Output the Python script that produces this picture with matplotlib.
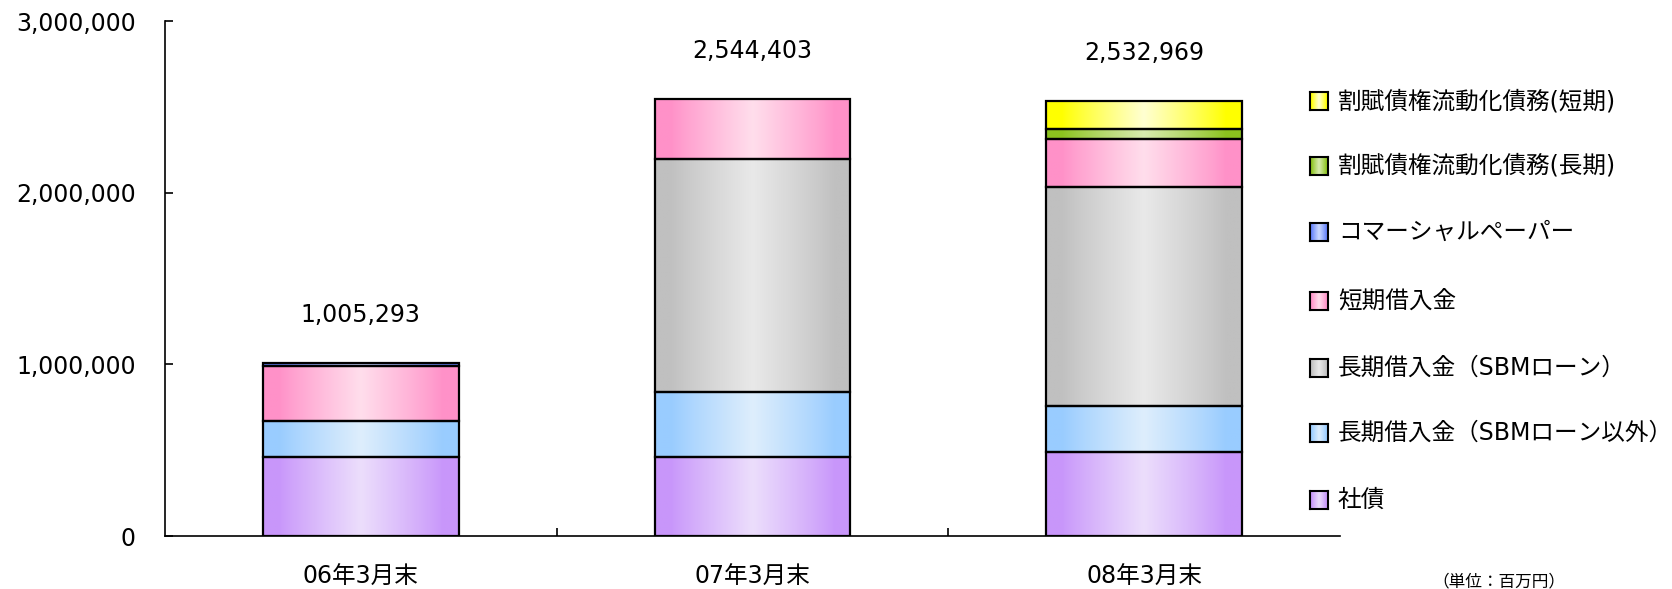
import numpy as np
import matplotlib.pyplot as plt
from matplotlib.patches import Rectangle
from matplotlib.ticker import FuncFormatter, FixedLocator

plt.rcParams['font.family'] = ['DejaVu Sans', 'Noto Sans CJK JP']

# データ（単位：百万円）
categories = ["06年3月末", "07年3月末", "08年3月末"]
shasai = [459000, 462000, 492000]                 # 社債
choki_other = [211000, 376000, 264000]            # 長期借入金（SBMローン以外）
choki_sbm = [0, 1360000, 1276000]                 # 長期借入金（SBMローン）
tanki = [320000, 346403, 279000]                  # 短期借入金
cp = [15293, 0, 0]                                # コマーシャルペーパー
kappu_long = [0, 0, 59000]                        # 割賦債権流動化債務(長期)
kappu_short = [0, 0, 162969]                      # 割賦債権流動化債務(短期)
totals = [1005293, 2544403, 2532969]

series = [
    ("社債", shasai, (200, 150, 250), (236, 222, 252)),
    ("長期借入金（SBMローン以外）", choki_other, (153, 204, 255), (222, 238, 252)),
    ("長期借入金（SBMローン）", choki_sbm, (192, 192, 192), (233, 233, 233)),
    ("短期借入金", tanki, (255, 145, 200), (255, 222, 236)),
    ("コマーシャルペーパー", cp, (100, 130, 250), (205, 218, 255)),
    ("割賦債権流動化債務(長期)", kappu_long, (140, 195, 30), (215, 235, 175)),
    ("割賦債権流動化債務(短期)", kappu_short, (255, 255, 0), (255, 255, 210)),
]

W, H = 1672, 589


def gradient(edge, center, n=200):
    t = np.linspace(0, 1, n)
    f = np.clip(1 - np.abs(t - 0.5) / 0.42, 0, 1) ** 0.9
    e = np.array(edge) / 255
    c = np.array(center) / 255
    img = e[None, :] * (1 - f[:, None]) + c[None, :] * f[:, None]
    return img[None, :, :]


fig = plt.figure(figsize=(W / 100, H / 100), dpi=100)
ax = fig.add_axes([165 / W, 1 - 536 / H, (1340 - 165) / W, (536 - 21) / H])

x = np.arange(len(categories))
width = 0.5
bottom = np.zeros(len(categories))
for name, vals, edge, center in series:
    img = gradient(edge, center)
    for i, v in enumerate(vals):
        if v <= 0:
            continue
        x0 = x[i] - width / 2
        ax.imshow(img, extent=[x0, x0 + width, bottom[i], bottom[i] + v],
                  aspect='auto', interpolation='bilinear', zorder=2)
        ax.add_patch(Rectangle((x0, bottom[i]), width, v, fill=False,
                               ec='black', lw=1.6, zorder=3))
    bottom += np.array(vals)

for i, t in enumerate(totals):
    ax.annotate(f"{t:,}", (x[i], bottom[i]), xytext=(0, 35),
                textcoords='offset points', ha='center', va='center', fontsize=17)

ax.set_xlim(-0.5, 2.5)
ax.set_ylim(0, 3000000)
ax.set_yticks([0, 1000000, 2000000, 3000000])
ax.yaxis.set_major_formatter(FuncFormatter(lambda v, p: f"{int(v):,}"))
ax.tick_params(axis='y', direction='in', length=6, width=1.2, pad=21, labelsize=17)
ax.set_xticks(x)
ax.set_xticklabels(categories)
ax.tick_params(axis='x', which='major', length=0, pad=21, labelsize=17)
ax.xaxis.set_minor_locator(FixedLocator([0.5, 1.5]))
ax.tick_params(axis='x', which='minor', direction='in', length=6, width=1.2)
for s in ['top', 'right']:
    ax.spines[s].set_visible(False)
for s in ['left', 'bottom']:
    ax.spines[s].set_linewidth(1.2)

# 凡例（上から順に）
legend_y = [101, 166, 232, 301, 368, 433, 500]
for (name, vals, edge, center), yc in zip(series[::-1], legend_y):
    sq = 18
    lax = fig.add_axes([1310 / W, 1 - (yc + sq / 2) / H, sq / W, sq / H])
    lax.imshow(gradient(edge, center), aspect='auto', interpolation='bilinear')
    lax.set_xticks([])
    lax.set_yticks([])
    for sp in lax.spines.values():
        sp.set_linewidth(1.5)
    fig.text(1338 / W, 1 - yc / H, name, fontsize=17, va='center', ha='left')

fig.text(1432 / W, 1 - 581 / H, "（単位：百万円）", fontsize=12, va='center', ha='left')

fig.savefig("out.png", dpi=100)
